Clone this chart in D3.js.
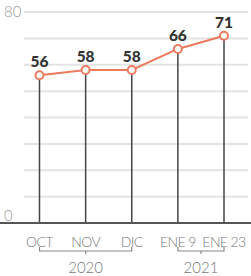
<!DOCTYPE html>
<html>
<head>
<meta charset="utf-8">
<script src="https://cdn.jsdelivr.net/npm/d3@7"></script>
<style>
  body { margin: 0; background: #fff; }
  svg { display: block; font-family: Lato, "DejaVu Sans", sans-serif; }
</style>
</head>
<body>
<div id="chart"></div>
<script>
// data
const months = ["OCT", "NOV", "DIC", "ENE 9", "ENE 23"];
const values = [56, 58, 58, 66, 71];
const years = [
    { label: "2020", from: 0, to: 2 },
    { label: "2021", from: 3, to: 4 }
];
const yTicks = [0, 10, 20, 30, 40, 50, 60, 70, 80];

const width = 251;
const height = 276;
const marginLeft = 24;
const marginRight = 3;

const svg = d3.select("#chart").append("svg")
    .attr("width", width)
    .attr("height", height);

const x = d3.scalePoint()
    .domain(months)
    .range([39.5, 224]);

const y = d3.scaleLinear()
    .domain([0, 80])
    .range([223, 12]);

// horizontal grid
svg.append("g")
    .selectAll("line")
    .data(yTicks.filter(d => d > 0))
    .join("line")
    .attr("x1", marginLeft)
    .attr("x2", width - marginRight)
    .attr("y1", d => y(d))
    .attr("y2", d => y(d))
    .attr("stroke", "#e4e4e4")
    .attr("stroke-width", 2);

// y labels (only 0 and 80)
svg.append("g")
    .selectAll("text")
    .data([0, 80])
    .join("text")
    .attr("x", 4)
    .attr("y", d => y(d) - (d === 0 ? 2 : -5))
    .attr("fill", "#999")
    .attr("font-size", 15)
    .attr("font-weight", 300)
    .text(d => d);

// vertical stems from each point to the baseline
svg.append("g")
    .selectAll("line")
    .data(values)
    .join("line")
    .attr("x1", (d, i) => x(months[i]))
    .attr("x2", (d, i) => x(months[i]))
    .attr("y1", d => y(d))
    .attr("y2", y(0))
    .attr("stroke", "#444")
    .attr("stroke-width", 1.5);

// baseline
svg.append("line")
    .attr("x1", 0)
    .attr("x2", width)
    .attr("y1", y(0))
    .attr("y2", y(0))
    .attr("stroke", "#555")
    .attr("stroke-width", 2);

// the line
const line = d3.line()
    .x((d, i) => x(months[i]))
    .y(d => y(d));

svg.append("path")
    .datum(values)
    .attr("d", line)
    .attr("fill", "none")
    .attr("stroke", "#ec7a5f")
    .attr("stroke-width", 2);

svg.append("g")
    .selectAll("circle")
    .data(values)
    .join("circle")
    .attr("cx", (d, i) => x(months[i]))
    .attr("cy", d => y(d))
    .attr("r", 4)
    .attr("fill", "#fff")
    .attr("stroke", "#ec7a5f")
    .attr("stroke-width", 2);

// value labels
svg.append("g")
    .selectAll("text")
    .data(values)
    .join("text")
    .attr("x", (d, i) => x(months[i]))
    .attr("y", d => y(d) - 8)
    .attr("text-anchor", "middle")
    .attr("fill", "#333")
    .attr("font-size", 15.5)
    .attr("font-weight", 900)
    .text(d => d);

// month labels
svg.append("g")
    .selectAll("text")
    .data(months)
    .join("text")
    .attr("x", d => x(d))
    .attr("y", 247)
    .attr("text-anchor", "middle")
    .attr("fill", "#777")
    .attr("font-size", 14)
    .attr("font-weight", 300)
    .attr("letter-spacing", -0.6)
    .text(d => d);

// year brackets
const bracketY = 251;
const yearG = svg.append("g")
    .selectAll("g")
    .data(years)
    .join("g");

yearG.append("path")
    .attr("d", d => {
        const x0 = x(months[d.from]), x1 = x(months[d.to]), xm = (x0 + x1) / 2;
        return `M${x0},${bracketY - 4}V${bracketY}H${x1}V${bracketY - 4}M${xm},${bracketY}V${bracketY + 3}`;
    })
    .attr("fill", "none")
    .attr("stroke", "#888")
    .attr("stroke-width", 1.2);

yearG.append("text")
    .attr("x", d => (x(months[d.from]) + x(months[d.to])) / 2)
    .attr("y", 273)
    .attr("text-anchor", "middle")
    .attr("fill", "#777")
    .attr("font-size", 15)
    .attr("font-weight", 300)
    .text(d => d.label);
</script>
</body>
</html>
